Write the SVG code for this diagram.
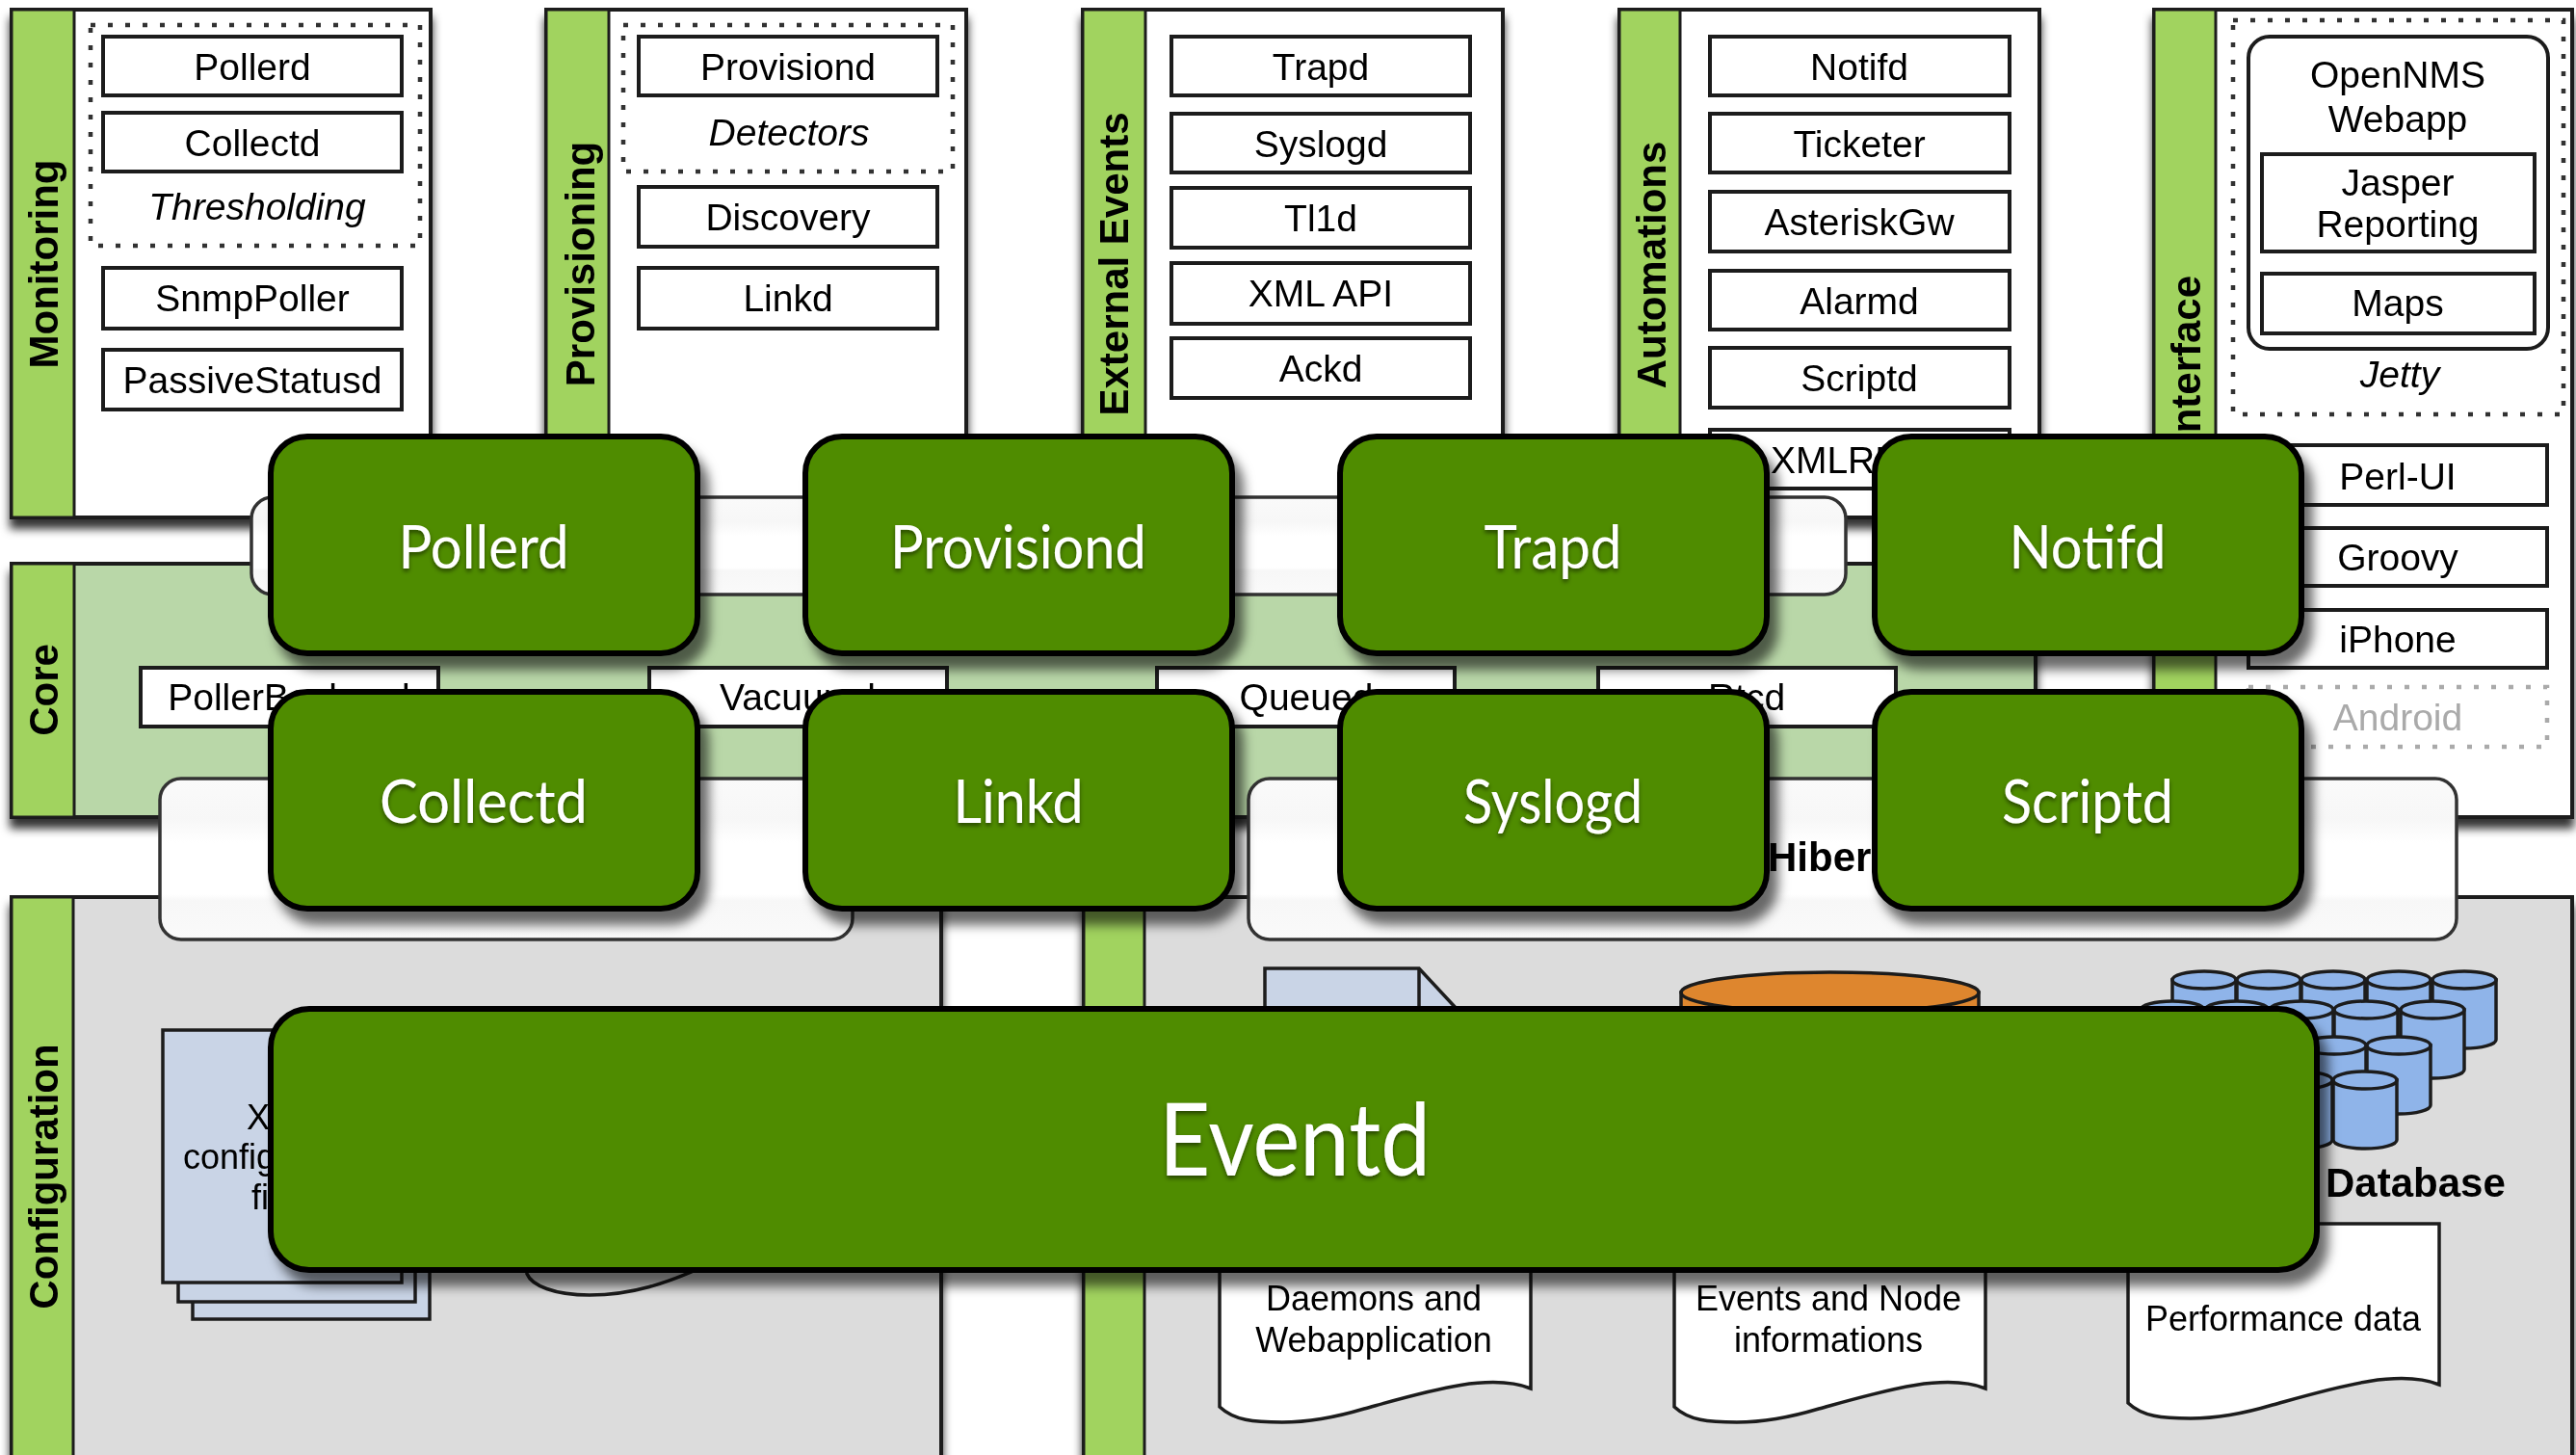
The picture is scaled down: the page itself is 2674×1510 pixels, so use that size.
<svg xmlns="http://www.w3.org/2000/svg" xmlns:xlink="http://www.w3.org/1999/xlink" width="2674" height="1510" viewBox="0 0 2674 1510">
<style>
text{font-family:"Liberation Sans",Arial,sans-serif;fill:#000}
.t{font-size:39px;text-anchor:middle}
.i{font-style:italic}
.s{font-size:36px;text-anchor:middle}
.b{font-size:42px;font-weight:700}
.l{font-size:42px;font-weight:700;text-anchor:middle}
.box{fill:#fff;stroke:#1c1c1c;stroke-width:4}
.panel{stroke:#1c1c1c;stroke-width:4;filter:url(#ps)}
.white{fill:#fff}.core{fill:#b9d7a8}.grey{fill:#dcdcdc}
.strip{fill:#a1d35f;stroke:#1c1c1c;stroke-width:3}
.dot{fill:none;stroke:#333;stroke-width:4.500;stroke-dasharray:5 13}
.dim{fill:none;stroke:#aaa;stroke-width:4.500;stroke-dasharray:5 13}
.band{fill:url(#bg);stroke:#333;stroke-width:3.5}
.paper{fill:#c9d4e6;stroke:#1c1c1c;stroke-width:3.5}
.g{fill:#508c00;stroke:#000;stroke-width:6;filter:url(#gs)}
.gt{font-family:Lato,"Open Sans",sans-serif;fill:#fff;font-size:62px;text-anchor:middle;filter:url(#ts)}
</style>
<defs>
<filter id="ps" x="-5%" y="-5%" width="110%" height="115%"><feDropShadow dx="0" dy="10" stdDeviation="5" flood-color="#000" flood-opacity=".8"/></filter>
<filter id="gs" x="-10%" y="-10%" width="125%" height="130%"><feDropShadow dx="9" dy="14" stdDeviation="6" flood-color="#000" flood-opacity=".58"/></filter>
<filter id="ts" x="-10%" y="-20%" width="120%" height="150%"><feDropShadow dx="0" dy="3" stdDeviation="2" flood-color="#000" flood-opacity=".5"/></filter>
<filter id="soft" x="0" y="0" width="100%" height="100%" filterUnits="userSpaceOnUse" primitiveUnits="userSpaceOnUse"><feGaussianBlur stdDeviation=".6"/></filter>
<linearGradient id="bg" x1="0" y1="0" x2="0" y2="1"><stop offset="0" stop-color="#fafafa"/><stop offset=".25" stop-color="#f7f7f7"/><stop offset=".4" stop-color="#fff"/><stop offset=".72" stop-color="#fff"/><stop offset=".76" stop-color="#f7f7f7"/><stop offset="1" stop-color="#fafafa"/></linearGradient>
<g id="cyl"><path d="M-33 0V62A33 9 0 0 0 33 62V0Z" fill="#8fb4e9" stroke="#1c1c1c" stroke-width="3.5"/><ellipse cx="0" cy="0" rx="33" ry="9" fill="#8fb4e9" stroke="#1c1c1c" stroke-width="3.5"/></g>
<path id="doc" d="M0 0H323V167C280 150 215 170 150 188C110 200 85 202 65 202C35 202 15 200 0 186Z" fill="#fff" stroke="#1c1c1c" stroke-width="3.5"/>
</defs>
<rect width="2674" height="1510" fill="#fff"/>
<g id="lower" filter="url(#soft)">
<g id="monitoring">
<rect class="panel white" x="12" y="10" width="435" height="527"/><rect class="strip" x="12" y="10" width="65" height="527"/>
<text class="l" transform="translate(60,274) rotate(-90)">Monitoring</text>
<rect class="dot" x="94" y="26" width="342" height="229"/>
<rect class="box" x="107" y="38" width="310" height="61"/><text class="t" x="262" y="83">Pollerd</text>
<rect class="box" x="107" y="117" width="310" height="61"/><text class="t" x="262" y="162">Collectd</text>
<text class="t i" x="267" y="228">Thresholding</text>
<rect class="box" x="107" y="278" width="310" height="63"/><text class="t" x="262" y="323">SnmpPoller</text>
<rect class="box" x="107" y="363" width="310" height="62"/><text class="t" x="262" y="408">PassiveStatusd</text>
</g>
<g id="provisioning">
<rect class="panel white" x="567" y="10" width="436" height="527"/><rect class="strip" x="567" y="10" width="65" height="527"/>
<text class="l" transform="translate(617,274) rotate(-90)">Provisioning</text>
<rect class="dot" x="647" y="26" width="342" height="152"/>
<rect class="box" x="663" y="38" width="310" height="61"/><text class="t" x="818" y="83">Provisiond</text>
<text class="t i" x="819" y="151">Detectors</text>
<rect class="box" x="663" y="194" width="310" height="62"/><text class="t" x="818" y="239">Discovery</text>
<rect class="box" x="663" y="278" width="310" height="63"/><text class="t" x="818" y="323">Linkd</text>
</g>
<g id="external-events">
<rect class="panel white" x="1124" y="10" width="436" height="527"/><rect class="strip" x="1124" y="10" width="65" height="527"/>
<text class="l" transform="translate(1171,274) rotate(-90)">External Events</text>
<rect class="box" x="1216" y="38" width="310" height="61"/><text class="t" x="1371" y="83">Trapd</text>
<rect class="box" x="1216" y="118" width="310" height="61"/><text class="t" x="1371" y="163">Syslogd</text>
<rect class="box" x="1216" y="195" width="310" height="62"/><text class="t" x="1371" y="240">Tl1d</text>
<rect class="box" x="1216" y="273" width="310" height="63"/><text class="t" x="1371" y="318">XML API</text>
<rect class="box" x="1216" y="351" width="310" height="62"/><text class="t" x="1371" y="396">Ackd</text>
</g>
<g id="automations">
<rect class="panel white" x="1681" y="10" width="436" height="527"/><rect class="strip" x="1681" y="10" width="63" height="527"/>
<text class="l" transform="translate(1729,275) rotate(-90)">Automations</text>
<rect class="box" x="1775" y="38" width="311" height="61"/><text class="t" x="1930" y="83">Notifd</text>
<rect class="box" x="1775" y="118" width="311" height="61"/><text class="t" x="1930" y="163">Ticketer</text>
<rect class="box" x="1775" y="199" width="311" height="62"/><text class="t" x="1930" y="244">AsteriskGw</text>
<rect class="box" x="1775" y="281" width="311" height="61"/><text class="t" x="1930" y="326">Alarmd</text>
<rect class="box" x="1775" y="361" width="311" height="62"/><text class="t" x="1930" y="406">Scriptd</text>
<rect class="box" x="1775" y="446" width="311" height="61"/><text class="t" x="1930" y="491">XMLRPCd</text>
</g>
<g id="user-interface">
<rect class="panel white" x="2236" y="10" width="434" height="838"/><rect class="strip" x="2236" y="10" width="64" height="838"/>
<text class="l" transform="translate(2284,426) rotate(-90)">User Interface</text>
<rect class="dot" x="2318" y="21" width="343" height="409"/>
<rect class="box" x="2334" y="38" width="311" height="324" rx="22"/>
<text class="t" x="2489" y="91">OpenNMS</text><text class="t" x="2489" y="137">Webapp</text>
<rect class="box" x="2348" y="160" width="283" height="101"/><text class="t" x="2489" y="203">Jasper</text><text class="t" x="2489" y="246">Reporting</text>
<rect class="box" x="2348" y="284" width="283" height="62"/><text class="t" x="2489" y="328">Maps</text>
<text class="t i" x="2491" y="402">Jetty</text>
<rect class="box" x="2334" y="462" width="310" height="62"/><text class="t" x="2489" y="508">Perl-UI</text>
<rect class="box" x="2334" y="548" width="310" height="60"/><text class="t" x="2489" y="592">Groovy</text>
<rect class="box" x="2334" y="633" width="310" height="60"/><text class="t" x="2489" y="677">iPhone</text>
<rect class="dim" x="2334" y="713" width="310" height="62"/><text class="t" x="2489" y="758" style="fill:#aaa">Android</text>
</g>
<g id="core">
<rect class="panel core" x="12" y="585" width="2101" height="263"/><rect class="strip" x="12" y="585" width="65" height="263"/>
<text class="l" transform="translate(60,716) rotate(-90)">Core</text>
<rect class="box" x="146" y="693" width="309" height="61"/><text class="t" x="300" y="737">PollerBackend</text>
<rect class="box" x="674" y="693" width="309" height="61"/><text class="t" x="828" y="737">Vacuumd</text>
<rect class="box" x="1201" y="693" width="309" height="61"/><text class="t" x="1356" y="737">Queued</text>
<rect class="box" x="1659" y="693" width="309" height="61"/><text class="t" x="1813" y="737">Rtcd</text>
</g>
<g id="configuration">
<rect class="panel grey" x="12" y="931" width="965" height="585"/><rect class="strip" x="12" y="931" width="64" height="585"/>
<text class="l" transform="translate(60,1221) rotate(-90)">Configuration</text>
<rect class="paper" x="200" y="1100" width="246" height="269"/>
<rect class="paper" x="185" y="1085" width="246" height="266"/>
<rect class="paper" x="169" y="1069" width="248" height="262"/>
<text class="s" x="293" y="1172">XML</text><text class="s" x="293" y="1213">configuration</text><text class="s" x="293" y="1255">files</text>
<path d="M547 1280V1322C552 1334 575 1344 612 1344C650 1344 690 1336 760 1300" fill="none" stroke="#1c1c1c" stroke-width="3.5"/>
</g>
<g id="storage">
<rect class="panel grey" x="1125" y="931" width="1545" height="585"/><rect class="strip" x="1125" y="931" width="63" height="585"/>
<path class="paper" d="M1313 1005H1473L1513 1048V1200H1313Z"/><path d="M1473 1005V1060" fill="none" stroke="#1c1c1c" stroke-width="3.5"/>
<g id="cylinder"><path d="M1745 1030V1200H2054V1030Z" fill="#de862f" stroke="#1c1c1c" stroke-width="3.5"/><ellipse cx="1899.500" cy="1030" rx="154.500" ry="21" fill="#de862f" stroke="#1c1c1c" stroke-width="3.500"/></g>
<use xlink:href="#doc" href="#doc" x="1266" y="1274"/>
<use xlink:href="#doc" href="#doc" x="1738" y="1274"/>
<use xlink:href="#doc" href="#doc" x="2209" y="1270"/>
<text class="s" x="1426" y="1360">Daemons and</text><text class="s" x="1426" y="1403">Webapplication</text>
<text class="s" x="1898" y="1360">Events and Node</text><text class="s" x="1898" y="1403">informations</text>
<text class="s" x="2370" y="1381">Performance data</text>
<g id="cylinders">
<use href="#cyl" x="2288" y="1017"/><use href="#cyl" x="2355" y="1017"/><use href="#cyl" x="2422" y="1017"/><use href="#cyl" x="2490" y="1017"/><use href="#cyl" x="2558" y="1017"/>
<use href="#cyl" x="2255" y="1048"/><use href="#cyl" x="2322" y="1048"/><use href="#cyl" x="2389" y="1048"/><use href="#cyl" x="2456" y="1048"/><use href="#cyl" x="2525" y="1048"/>
<use href="#cyl" x="2355" y="1085"/><use href="#cyl" x="2423" y="1085"/><use href="#cyl" x="2490" y="1085"/>
<use href="#cyl" x="2388" y="1121"/><use href="#cyl" x="2455" y="1121"/>
</g>
<text class="b" x="2414" y="1242">Database</text>
</g>
<g id="band-top"><rect class="band" x="261" y="516" width="1655" height="101" rx="22"/></g>
<g id="band-left"><rect class="band" x="166" y="808" width="719" height="167" rx="22"/></g>
<g id="band-right"><rect class="band" x="1296" y="808" width="1254" height="167" rx="22"/><text class="b" x="1835" y="904">Hibernate</text></g>
</g>
<g id="pollerd"><rect class="g" x="281" y="453" width="443" height="225" rx="38"/><text class="gt" x="502" y="590" textLength="177" lengthAdjust="spacingAndGlyphs">Pollerd</text></g>
<g id="provisiond"><rect class="g" x="836" y="453" width="443" height="225" rx="38"/><text class="gt" x="1057" y="590" textLength="266" lengthAdjust="spacingAndGlyphs">Provisiond</text></g>
<g id="trapd"><rect class="g" x="1391" y="453" width="443" height="225" rx="38"/><text class="gt" x="1612" y="590" textLength="143" lengthAdjust="spacingAndGlyphs">Trapd</text></g>
<g id="notifd"><rect class="g" x="1946" y="453" width="443" height="225" rx="38"/><text class="gt" x="2167" y="590" textLength="163" lengthAdjust="spacingAndGlyphs">Notifd</text></g>
<g id="collectd"><rect class="g" x="281" y="718" width="443" height="225" rx="38"/><text class="gt" x="502" y="854" textLength="216" lengthAdjust="spacingAndGlyphs">Collectd</text></g>
<g id="linkd"><rect class="g" x="836" y="718" width="443" height="225" rx="38"/><text class="gt" x="1057" y="854" textLength="135" lengthAdjust="spacingAndGlyphs">Linkd</text></g>
<g id="syslogd"><rect class="g" x="1391" y="718" width="443" height="225" rx="38"/><text class="gt" x="1612" y="854" textLength="186" lengthAdjust="spacingAndGlyphs">Syslogd</text></g>
<g id="scriptd"><rect class="g" x="1946" y="718" width="443" height="225" rx="38"/><text class="gt" x="2167" y="854" textLength="178" lengthAdjust="spacingAndGlyphs">Scriptd</text></g>
<g id="eventd"><rect class="g" x="281" y="1047" width="2124" height="271" rx="40"/><text class="gt" x="1344" y="1220" style="font-size:104px" textLength="282" lengthAdjust="spacingAndGlyphs">Eventd</text></g>
</svg>
